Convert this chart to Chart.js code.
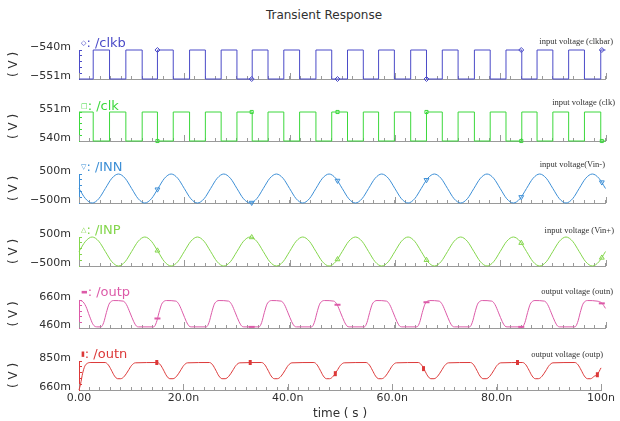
<!DOCTYPE html>
<html>
<head>
<meta charset="utf-8">
<title>Transient Response</title>
<script src="https://cdn.jsdelivr.net/npm/chart.js@4.4.1/dist/chart.umd.min.js"></script>
<style>
  body { margin: 0; width: 620px; height: 421px; overflow: hidden; position: relative; background: #fff; font-family: 'DejaVu Sans', sans-serif; color: #303030; }
  canvas { position: absolute; left: 0; top: 0; }
  .txt { position: absolute; white-space: nowrap; line-height: 1; }
  .name { font-size: 13px; transform: translateY(-50%); }
  .name .sym { font-size: 7px; vertical-align: 2px; }
  .note { font-family: 'Liberation Serif', serif; font-size: 8.5px; transform: translate(-100%, -50%); }
</style>
</head>
<body>
<div class="txt" style="left:324px; top:15px; font-size:12px; transform:translate(-50%,-50%)">Transient Response</div>
<script>
// ===== Transient Response strips =====

const xTickValues = [0, 20, 40, 60, 80, 100];
const xTickLabels = ['0.00', '20.0n', '40.0n', '60.0n', '80.0n', '100n'];

const seriesNames = ['/clkb', '/clk', '/INN', '/INP', '/outp', '/outn'];
const markGlyphs = ['◇', '□', '▽', '△', '▬', '▮'];
const notes = ['input voltage (clkbar)', 'input voltage (clk)', 'input voltage(Vin-)', 'input voltage (Vin+)', 'output voltage (outn)', 'output voltage (outp)'];

// y ranges in mV
const yMins = [-551, 540, -500, -500, 460, 660];
const yMaxs = [-540, 551, 500, 500, 660, 850];
const yLabels = [['−551m', '−540m'], ['540m', '551m'], ['−500m', '500m'], ['−500m', '500m'], ['460m', '660m'], ['660m', '850m']];

// clock edges (ns) - clkb and clk switch on the same edges
const clkEdges = [2.7, 5.8, 8.9, 12.0, 14.9, 17.9, 21.0, 24.0, 27.0, 30.0, 32.9, 35.9, 38.9, 41.9, 45.0, 48.0,
  51.0, 54.0, 56.9, 59.9, 63.0, 66.0, 69.0, 72.0, 75.1, 78.1, 81.1, 84.1, 87.0, 90.0, 93.0, 96.0, 99.1];

// sine inputs, sampled every 1.25 ns
const sineT = [0, 1.25, 2.5, 3.75, 5, 6.25, 7.5, 8.75, 10, 11.25, 12.5, 13.75, 15, 16.25, 17.5, 18.75,
  20, 21.25, 22.5, 23.75, 25, 26.25, 27.5, 28.75, 30, 31.25, 32.5, 33.75, 35, 36.25, 37.5, 38.75,
  40, 41.25, 42.5, 43.75, 45, 46.25, 47.5, 48.75, 50, 51.25, 52.5, 53.75, 55, 56.25, 57.5, 58.75,
  60, 61.25, 62.5, 63.75, 65, 66.25, 67.5, 68.75, 70, 71.25, 72.5, 73.75, 75, 76.25, 77.5, 78.75,
  80, 81.25, 82.5, 83.75, 85, 86.25, 87.5, 88.75, 90, 91.25, 92.5, 93.75, 95, 96.25, 97.5, 98.75, 100];
const innV = [0, -354, -500, -354, 0, 354, 500, 354, 0, -354, -500, -354, 0, 354, 500, 354,
  0, -354, -500, -354, 0, 354, 500, 354, 0, -354, -500, -354, 0, 354, 500, 354,
  0, -354, -500, -354, 0, 354, 500, 354, 0, -354, -500, -354, 0, 354, 500, 354,
  0, -354, -500, -354, 0, 354, 500, 354, 0, -354, -500, -354, 0, 354, 500, 354,
  0, -354, -500, -354, 0, 354, 500, 354, 0, -354, -500, -354, 0, 354, 500, 354, 0];
const inpV = [0, 354, 500, 354, 0, -354, -500, -354, 0, 354, 500, 354, 0, -354, -500, -354,
  0, 354, 500, 354, 0, -354, -500, -354, 0, 354, 500, 354, 0, -354, -500, -354,
  0, 354, 500, 354, 0, -354, -500, -354, 0, 354, 500, 354, 0, -354, -500, -354,
  0, 354, 500, 354, 0, -354, -500, -354, 0, 354, 500, 354, 0, -354, -500, -354,
  0, 354, 500, 354, 0, -354, -500, -354, 0, 354, 500, 354, 0, -354, -500, -354, 0];

// outp (mV)
const outpT = [0, 0.6, 1.3, 2.0, 2.6, 3.1, 3.6,
  4.2, 4.7, 5.2, 5.7, 6.2, 6.6, 8.4, 9.0, 9.7, 10.4, 10.9, 11.3,
  14.2, 14.7, 15.2, 15.7, 16.2, 16.6, 18.4, 19.0, 19.7, 20.4, 20.9, 21.3,
  24.2, 24.7, 25.2, 25.7, 26.2, 26.6, 28.4, 29.0, 29.7, 30.4, 30.9, 31.3,
  34.2, 34.7, 35.2, 35.7, 36.2, 36.6, 38.4, 39.0, 39.7, 40.4, 40.9, 41.3,
  44.2, 44.7, 45.2, 45.7, 46.2, 46.6, 48.4, 49.0, 49.7, 50.4, 50.9, 51.3,
  54.2, 54.7, 55.2, 55.7, 56.2, 56.6, 58.4, 59.0, 59.7, 60.4, 60.9, 61.3,
  64.2, 64.7, 65.2, 65.7, 66.2, 66.6, 68.4, 69.0, 69.7, 70.4, 70.9, 71.3,
  74.2, 74.7, 75.2, 75.7, 76.2, 76.6, 78.4, 79.0, 79.7, 80.4, 80.9, 81.3,
  84.2, 84.7, 85.2, 85.7, 86.2, 86.6, 88.4, 89.0, 89.7, 90.4, 90.9, 91.3,
  94.2, 94.7, 95.2, 95.7, 96.2, 96.6, 98.4, 99.3, 100];
const outpV = [657, 652, 615, 545, 490, 470, 468,
  468, 500, 570, 630, 652, 656, 652, 628, 568, 505, 474, 468,
  468, 500, 570, 630, 652, 656, 652, 628, 568, 505, 474, 468,
  468, 500, 570, 630, 652, 656, 652, 628, 568, 505, 474, 468,
  468, 500, 570, 630, 652, 656, 652, 628, 568, 505, 474, 468,
  468, 500, 570, 630, 652, 656, 652, 628, 568, 505, 474, 468,
  468, 500, 570, 630, 652, 656, 652, 628, 568, 505, 474, 468,
  468, 500, 570, 630, 652, 656, 652, 628, 568, 505, 474, 468,
  468, 500, 570, 630, 652, 656, 652, 628, 568, 505, 474, 468,
  468, 500, 570, 630, 652, 656, 652, 628, 568, 505, 474, 468,
  468, 500, 570, 630, 652, 656, 652, 638, 600];

// outn (mV)
const outnT = [0, 0.3, 0.7, 1.1, 1.6, 2.3,
  5.0, 5.6, 6.2, 6.8, 7.4, 8.0, 8.7, 9.4, 10.1, 10.8,
  15.0, 15.6, 16.2, 16.8, 17.4, 18.0, 18.7, 19.4, 20.1, 20.8,
  25.0, 25.6, 26.2, 26.8, 27.4, 28.0, 28.7, 29.4, 30.1, 30.8,
  35.0, 35.6, 36.2, 36.8, 37.4, 38.0, 38.7, 39.4, 40.1, 40.8,
  45.0, 45.6, 46.2, 46.8, 47.4, 48.0, 48.7, 49.4, 50.1, 50.8,
  55.0, 55.6, 56.2, 56.8, 57.4, 58.0, 58.7, 59.4, 60.1, 60.8,
  65.0, 65.6, 66.2, 66.8, 67.4, 68.0, 68.7, 69.4, 70.1, 70.8,
  75.0, 75.6, 76.2, 76.8, 77.4, 78.0, 78.7, 79.4, 80.1, 80.8,
  85.0, 85.6, 86.2, 86.8, 87.4, 88.0, 88.7, 89.4, 90.1, 90.8,
  95.0, 95.6, 96.2, 96.8, 97.4, 98.0, 98.7, 99.3, 100];
const outnV = [660, 700, 770, 815, 835, 840,
  840, 825, 790, 752, 734, 734, 750, 785, 822, 838,
  840, 825, 790, 752, 734, 734, 750, 785, 822, 838,
  840, 825, 790, 752, 734, 734, 750, 785, 822, 838,
  840, 825, 790, 752, 734, 734, 750, 785, 822, 838,
  840, 825, 790, 752, 734, 734, 750, 785, 822, 838,
  840, 825, 790, 752, 734, 734, 750, 785, 822, 838,
  840, 825, 790, 752, 734, 734, 750, 785, 822, 838,
  840, 825, 790, 752, 734, 734, 750, 785, 822, 838,
  840, 825, 790, 752, 734, 734, 750, 785, 822, 838,
  840, 825, 790, 752, 734, 734, 750, 762, 805];

// symbol positions (ns) and the value each trace has there
const markT = [14.9, 32.8, 49.1, 66.0, 84.0, 99.3];
const clkbMarkV = [-540, -551, -551, -551, -540, -540];
const clkMarkV = [540, 551, 551, 551, 540, 540];
const innMarkV = [-30, -490, 270, 295, -295, 215];
const inpMarkV = [30, 490, -270, -295, 295, -215];
const outpMarkV = [528, 468, 626, 644, 468, 636];
const outnMarkV = [840, 840, 767, 800, 840, 760];

// layout
const W = 620, H = 421;
const panelTop = [50, 112, 174, 237, 300, 361];
const panelBottom = [79, 141, 203, 266, 328, 390];
const nameY = [42, 104.5, 166, 229, 291, 353];
const noteRight = [613, 615, 605, 614, 613, 603];
const noteY = [41, 101.5, 164, 229.5, 291, 354];

const colors = ['#4b4bc8', '#3cd83c', '#3d8fd6', '#84d64c', '#dc5aa8', '#dc3838'];
const axisGray = '#9a9a9a';
const ink = '#303030';
const tickFont = { family: 'DejaVu Sans', size: 11 };
const titleFont = { family: 'DejaVu Sans', size: 12 };

function pairs(ts, vs) {
  return ts.map((t, i) => ({ x: t, y: vs[i] }));
}

function stepSeries(first, second) {
  const levels = [first, second];
  const pts = [{ x: 0, y: first }];
  clkEdges.forEach((t, i) => pts.push({ x: t, y: levels[(i + 1) % 2] }));
  pts.push({ x: 100, y: levels[clkEdges.length % 2] });
  return pts;
}

const traces = [
  { line: stepSeries(-551, -540), stepped: true, marks: clkbMarkV, style: 'rectRot', rot: 0, r: 2.5, bw: 1 },
  { line: stepSeries(551, 540), stepped: true, marks: clkMarkV, style: 'rect', rot: 0, r: 2.2, bw: 1 },
  { line: pairs(sineT, innV), marks: innMarkV, style: 'triangle', rot: 180, r: 2.8, bw: 1 },
  { line: pairs(sineT, inpV), marks: inpMarkV, style: 'triangle', rot: 0, r: 2.8, bw: 1 },
  { line: pairs(outpT, outpV), marks: outpMarkV, style: 'line', rot: 0, r: 3, bw: 2 },
  { line: pairs(outnT, outnV), marks: outnMarkV, style: 'line', rot: 90, r: 2.5, bw: 3 },
];

// longer ticks at the labelled times
const majorTicks = {
  id: 'majorTicks',
  beforeDatasetsDraw(chart) {
    const sx = chart.scales.x, ctx = chart.ctx, y0 = chart.chartArea.bottom;
    ctx.save();
    ctx.strokeStyle = axisGray;
    ctx.lineWidth = 1;
    ctx.beginPath();
    xTickValues.forEach(v => {
      const px = Math.round(sx.getPixelForValue(v)) + 0.5;
      ctx.moveTo(px, y0);
      ctx.lineTo(px, y0 - 6);
    });
    ctx.stroke();
    ctx.restore();
  }
};

traces.forEach((tr, i) => {
  const last = i === traces.length - 1;
  const canvas = document.createElement('canvas');
  canvas.width = W; canvas.height = H;
  document.body.appendChild(canvas);

  new Chart(canvas, {
    type: 'line',
    data: {
      datasets: [
        {
          data: tr.line,
          borderColor: colors[i],
          borderWidth: 1,
          pointRadius: 0,
          stepped: !!tr.stepped,
          cubicInterpolationMode: tr.stepped ? 'default' : 'monotone',
          clip: false
        },
        {
          data: pairs(markT, tr.marks),
          showLine: false,
          pointStyle: tr.style,
          rotation: tr.rot,
          pointRadius: tr.r,
          pointBorderWidth: tr.bw,
          pointBorderColor: colors[i],
          pointBackgroundColor: 'rgba(255,255,255,0)',
          clip: false
        }
      ]
    },
    options: {
      responsive: false,
      animation: false,
      devicePixelRatio: 1,
      events: [],
      layout: { padding: { top: panelTop[i], bottom: last ? 0 : H - panelBottom[i], left: 0, right: 14.5 } },
      plugins: { legend: { display: false }, tooltip: { enabled: false } },
      scales: {
        x: {
          type: 'linear', min: 0, max: 100,
          afterFit: s => { s.height = last ? H - panelBottom[i] : 0; },
          border: { color: axisGray },
          grid: { drawOnChartArea: false, tickLength: -3, color: axisGray },
          ticks: {
            display: last, stepSize: 2, autoSkip: false, maxRotation: 0, padding: 5,
            font: tickFont, color: ink,
            callback: v => { const k = xTickValues.indexOf(v); return k < 0 ? '' : xTickLabels[k]; }
          },
          title: { display: last, text: 'time ( s )', padding: { top: 0, bottom: 0 }, font: titleFont, color: ink }
        },
        y: {
          min: yMins[i], max: yMaxs[i],
          afterFit: s => { s.width = 79; },
          border: { color: colors[i] },
          grid: { drawOnChartArea: false, tickLength: -3, color: colors[i] },
          ticks: {
            count: 6, autoSkip: false, padding: 11, labelOffset: -3, font: tickFont, color: ink,
            callback: (v, k, arr) => k === 0 ? yLabels[i][0] : (k === arr.length - 1 ? yLabels[i][1] : '')
          },
          title: { display: true, text: '( V )', padding: { top: 7, bottom: 0 }, font: titleFont, color: ink }
        }
      }
    },
    plugins: [majorTicks]
  });

  const name = document.createElement('div');
  name.className = 'txt name';
  name.style.left = '81px';
  name.style.top = nameY[i] + 'px';
  name.style.color = colors[i];
  name.innerHTML = '<span class="sym">' + markGlyphs[i] + '</span>: ' + seriesNames[i];
  document.body.appendChild(name);

  const note = document.createElement('div');
  note.className = 'txt note';
  note.style.left = noteRight[i] + 'px';
  note.style.top = noteY[i] + 'px';
  note.textContent = notes[i];
  document.body.appendChild(note);
});
</script>
</body>
</html>
